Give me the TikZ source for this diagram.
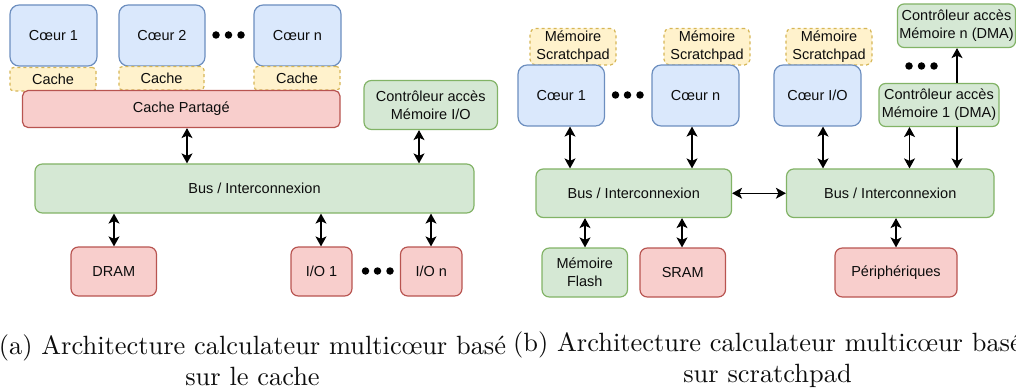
\documentclass[tikz,border=0pt]{standalone}
\usepackage{fontspec}
\newfontfamily\boxfont{Liberation Sans}
\usetikzlibrary{arrows.meta}
\definecolor{bluefill}{HTML}{DAE8FC}\definecolor{bluedraw}{HTML}{6C8EBF}
\definecolor{yelfill}{HTML}{FFF2CC}\definecolor{yeldraw}{HTML}{D6B656}
\definecolor{redfill}{HTML}{F8CECC}\definecolor{reddraw}{HTML}{B85450}
\definecolor{grnfill}{HTML}{D5E8D4}\definecolor{grndraw}{HTML}{82B366}
\tikzset{
  x=1pt,y=-1pt,
  boxbase/.style={inner sep=0pt,align=center,line width=1.2pt,text=black!95,font=\boxfont\fontsize{14.5}{18}\selectfont},
  corebox/.style={boxbase,draw=bluedraw,fill=bluefill},
  membox/.style={boxbase,draw=yeldraw,fill=yelfill,dash pattern=on 3pt off 3pt},
  redbox/.style={boxbase,draw=reddraw,fill=redfill},
  grnbox/.style={boxbase,draw=grndraw,fill=grnfill},
  link/.style={line width=1.2pt,draw=black,{Stealth[length=10pt,width=11pt,inset=2.5pt]}-{Stealth[length=10pt,width=11pt,inset=2.5pt]}},
  linkone/.style={line width=1.2pt,draw=black,-{Stealth[length=10pt,width=11pt,inset=2.5pt]}},
  dotmark/.style={circle,fill=black,inner sep=0pt,minimum size=7.5pt},
  captext/.style={inner sep=0pt,align=center,scale=2.64,font=\fontsize{10}{11.8}\selectfont,text=black!95},
}
\newcommand{\bx}[7]{%
  \pgfmathsetmacro{\bw}{#5-#3}\pgfmathsetmacro{\bh}{#6-#4}%
  \pgfmathsetmacro{\bcx}{(#3+#5)/2}\pgfmathsetmacro{\bcy}{(#4+#6)/2}%
  \pgfmathsetmacro{\brad}{0.15*min(\bw,\bh)}%
  \node[#1,minimum width=\bw pt,minimum height=\bh pt,rounded corners=\brad pt] (#2) at (\bcx,\bcy) {#7};}
\begin{document}
\begin{tikzpicture}
\useasboundingbox (0,0) rectangle (1016,390);
% (a)
\bx{corebox}{ca1}{10}{5}{97}{66}{Cœur 1}
\bx{corebox}{ca2}{119}{5}{205}{66}{Cœur 2}
\bx{corebox}{can}{254}{5}{341}{66}{Cœur n}
\bx{membox}{ma1}{10}{67.5}{96}{91}{Cache}
\bx{membox}{ma2}{119}{66.5}{204}{90}{Cache}
\bx{membox}{man}{254}{66.5}{340}{90}{Cache}
\bx{redbox}{shared}{22.5}{90.5}{340}{127.5}{Cache Partagé}
\bx{grnbox}{ctrlio}{364}{80.5}{497.5}{129.5}{Contrôleur accès\\Mémoire I/O}
\bx{grnbox}{busa}{35}{164}{474}{213}{Bus / Interconnexion}
\bx{redbox}{dram}{71}{247}{156.5}{296}{DRAM}
\bx{redbox}{io1}{291}{247}{352}{296}{I/O 1}
\bx{redbox}{ion}{400.5}{247}{462}{296}{I/O n}
\foreach \n/\x/\y in {d1/216/35,d2/228.5/35,d3/241/35,d4/365.5/271,d5/377.5/271,d6/390/271}
  \node[dotmark] (\n) at (\x,\y) {};
\draw[link] (187,0 |- shared.south) -- (187,0 |- busa.north);
\draw[link] (419,0 |- ctrlio.south) -- (419,0 |- busa.north);
\draw[link] (114,0 |- busa.south) -- (114,0 |- dram.north);
\draw[link] (321,0 |- busa.south) -- (321,0 |- io1.north);
\draw[link] (431,0 |- busa.south) -- (431,0 |- ion.north);
% (b)
\bx{membox}{sp1}{530}{28.5}{616}{65}{Mémoire\\Scratchpad}
\bx{membox}{spn}{664}{28.5}{750}{65}{Mémoire\\Scratchpad}
\bx{membox}{spio}{786}{28.5}{872}{65}{Mémoire\\Scratchpad}
\bx{corebox}{cb1}{518}{65}{604.5}{126}{Cœur 1}
\bx{corebox}{cbn}{652}{65}{739}{126}{Cœur n}
\bx{corebox}{cbio}{774}{65}{861}{126}{Cœur I/O}
\bx{grnbox}{dman}{897.5}{4}{1015.5}{47.5}{Contrôleur accès\\Mémoire n (DMA)}
\bx{grnbox}{dma1}{879}{83.5}{999}{126.5}{Contrôleur accès\\Mémoire 1 (DMA)}
\bx{grnbox}{busl}{536}{169}{731.5}{217.5}{Bus / Interconnexion}
\bx{grnbox}{busr}{786.5}{169}{994}{217.5}{Bus / Interconnexion}
\bx{grnbox}{flash}{542}{248}{627.5}{297}{Mémoire\\Flash}
\bx{redbox}{sram}{640}{248}{725.5}{297}{SRAM}
\bx{redbox}{peri}{835}{248}{957}{297}{Périphériques}
\foreach \n/\x/\y in {d7/615.5/95,d8/627.5/95,d9/640/95,d10/909/66,d11/921.5/66,d12/934/66}
  \node[dotmark] (\n) at (\x,\y) {};
\draw[link] (570,0 |- cb1.south) -- (570,0 |- busl.north);
\draw[link] (692,0 |- cbn.south) -- (692,0 |- busl.north);
\draw[link] (823,0 |- cbio.south) -- (823,0 |- busr.north);
\draw[link] (909.5,0 |- dma1.south) -- (909.5,0 |- busr.north);
\draw[linkone] (957,0 |- dma1.south) -- (957,0 |- busr.north);
\draw[linkone] (957,0 |- dma1.north) -- (957,0 |- dman.south);
\draw[link] (busl.east) -- (busr.west);
\draw[link] (585,0 |- busl.south) -- (585,0 |- flash.north);
\draw[link] (682,0 |- busl.south) -- (682,0 |- sram.north);
\draw[link] (896,0 |- busr.south) -- (896,0 |- peri.north);
% captions
\node[captext] (capa) at (252.5,360) {(a) Architecture calculateur multicœur basé\\sur le cache};
\node[captext] (capb) at (767.5,360) {(b) Architecture calculateur multicœur basé\\sur scratchpad};
\end{tikzpicture}
\end{document}
